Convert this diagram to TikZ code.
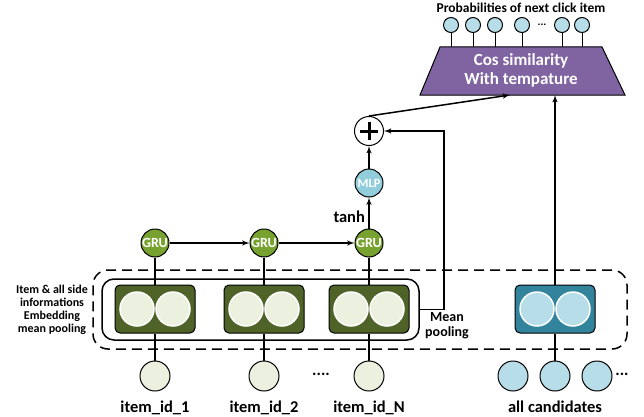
\documentclass[tikz,border=0pt]{standalone}
\usepackage{fontspec}
\setmainfont{Carlito}
\usetikzlibrary{arrows,calc}
\definecolor{gruGreen}{HTML}{77A22F}
\definecolor{embDark}{HTML}{4F6228}
\definecolor{embLight}{HTML}{EBF1DE}
\definecolor{candTeal}{HTML}{31849B}
\definecolor{candLight}{HTML}{B7DEE8}
\definecolor{mlpBlue}{HTML}{92CDDC}
\definecolor{cosPurple}{HTML}{8064A2}
\tikzset{
>=latex',
  every path/.style={line width=1.5pt},
  gru/.style={
    circle,
    draw=black, line width=1pt,
    fill=gruGreen,
    text=white,
    font=\bfseries\fontsize{14}{14}\selectfont,
    minimum size=28pt,
    inner sep=0pt},
  embbox/.style={
    rectangle,
    rounded corners=5pt,
    draw=black, line width=1pt,
    minimum width=80pt,
    minimum height=48pt},
  embdot/.style={
    circle,
    draw=white, line width=1.5pt,
    minimum size=34pt,
    inner sep=0pt},
  iddot/.style={
    circle,
    draw=black, line width=1pt,
    minimum size=30pt,
    inner sep=0pt},
  outdot/.style={
    circle,
    draw=black, line width=1pt,
    fill=candLight,
    minimum size=15pt,
    inner sep=0pt},
  lbl/.style={font=\bfseries\fontsize{16.5}{19}\selectfont},
  note/.style={font=\bfseries\fontsize{12}{13}\selectfont, align=center},
}
\begin{document}
\begin{tikzpicture}[x=1pt,y=1pt]
  \useasboundingbox (0,0) rectangle (644,416);

  % embedding group
  \node[draw, dashed, dash pattern=on 10pt off 6pt, rounded corners=15pt,
        minimum width=534pt, minimum height=79pt] (group) at (360,106.5) {};
  \node[draw, rounded corners=12pt,
        minimum width=317pt, minimum height=61pt] (pool) at (260.5,106.5) {};
  \node[note] (side) at (52,106) {Item \& all side\\informations\\Embedding\\mean pooling};

  \foreach \x/\n/\l in {155/1/item\_id\_1, 264/2/item\_id\_2, 369/3/item\_id\_N} {
    \node[embbox, fill=embDark] (box\n) at (\x,107) {};
    \node[embdot, fill=embLight] at (\x-18,107) {};
    \node[embdot, fill=embLight] at (\x+18,107) {};
    \node[iddot, fill=embLight] (item\n) at (\x,40) {};
    \node[lbl, anchor=base] (lab\n) at (\x,4) {\l};
    \node[gru] (gru\n) at (\x,173) {GRU};
    \draw (gru\n) -- (box\n);
    \draw (box\n) -- (item\n);
  }
  \node[lbl] (idots) at (321,42) {....};
  \draw[->] (gru1) -- (gru2);
  \draw[->] (gru2) -- (gru3);

  % candidates
  \node[embbox, fill=candTeal] (cand) at (555,107) {};
  \node[embdot, fill=candLight] at (537,107) {};
  \node[embdot, fill=candLight] at (573,107) {};
  \foreach \x [count=\i] in {513,555,597}
    \node[iddot, fill=candLight] (c\i) at (\x,40) {};
  \node[lbl] (cdots) at (622,42) {...};
  \node[lbl, anchor=base] (clab) at (555,4) {all candidates};
  \draw (c2) -- (cand);

  % session vector
  \node[gru, fill=mlpBlue, font=\bfseries\fontsize{12.5}{13}\selectfont] (mlp) at (369,233) {MLP};
  \node[circle, draw=black, line width=1pt, fill=white,
        minimum size=29pt] (plus) at (369,285) {};
  \draw[line width=3pt] ($(plus)+(-9,0)$) -- ($(plus)+(9,0)$);
  \draw[line width=3pt] ($(plus)+(0,-9)$) -- ($(plus)+(0,9)$);
  \draw[->] (gru3) -- node[lbl, left, yshift=-4pt] {tanh} (mlp);
  \draw[->] (mlp) -- (plus);
  \draw[->] (pool.east) -- ++(24,0) |- (plus);
  \node[note, font=\bfseries\fontsize{14}{15}\selectfont] (mp) at (447,90) {Mean\\pooling};

  % cosine layer
  \coordinate (bl) at (420,321);
  \coordinate (tl) at (440,369);
  \coordinate (tr) at (602,369);
  \coordinate (br) at (625,321);
  \draw[line width=1pt, fill=cosPurple] (bl) -- (tl) -- (tr) -- (br) -- cycle;
  \node[text=white, align=center, font=\bfseries\fontsize{17}{19}\selectfont]
    (cos) at (521,346) {Cos similarity\\With tempature};
  \coordinate (cosin) at (510,321);
  \draw[->] (plus.north) -- (cosin);
  \draw[->] (cand) -- (cand |- bl);

  \foreach \x [count=\i] in {451,473,495,522,562,582} {
    \node[outdot] (o\i) at (\x,391) {};
    \coordinate (s\i) at (\x,369);
    \draw[line width=1pt] (o\i) -- (s\i);
  }
  \node[inner sep=0pt, font=\bfseries\fontsize{11}{11}\selectfont] (odots) at (542,391) {...};
  \node[font=\bfseries\fontsize{13.5}{14}\selectfont] (prob) at (521,408)
    {Probabilities of next click item};
\end{tikzpicture}
\end{document}
